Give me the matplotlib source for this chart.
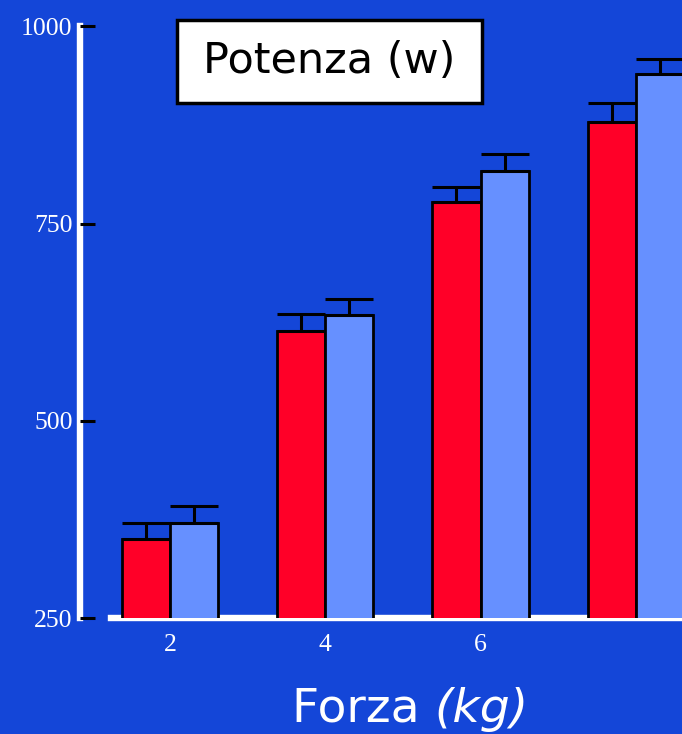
import matplotlib
matplotlib.use("Agg")
import matplotlib.pyplot as plt
from matplotlib.patches import Rectangle
import numpy as np

# Data: power (W) at each load (kg) for two conditions
forza = [2, 4, 6, 8]
tick_labels = ["2", "4", "6", ""]
potenza_rossa = [351, 614, 777, 879]
errore_rosso = [20, 21, 20, 24]
potenza_azzurra = [371, 634, 817, 939]
errore_azzurro = [21, 21, 21, 20]
y_ticks = [250, 500, 750, 1000]

BG = "#1446D8"
RED = "#FF0028"
LIGHT = "#6690FF"

fig = plt.figure(figsize=(6.82, 7.34), dpi=100, facecolor=BG)
ax = fig.add_axes([0.1166, 0.1576, 0.8834, 0.8066], facecolor=BG)

x = np.array(forza, dtype=float)
w = 0.62

ax.bar(x - w / 2, potenza_rossa, width=w, color=RED,
       edgecolor="black", linewidth=2, zorder=3)
ax.bar(x + w / 2, potenza_azzurra, width=w, color=LIGHT,
       edgecolor="black", linewidth=2, zorder=3)

# Upper-only error bars
cap = 17.3
ax.errorbar(x - w / 2, potenza_rossa, yerr=[np.zeros(len(x)), errore_rosso],
            fmt="none", ecolor="black", elinewidth=2.2, capsize=cap,
            capthick=2.2, zorder=4)
ax.errorbar(x + w / 2, potenza_azzurra, yerr=[np.zeros(len(x)), errore_azzurro],
            fmt="none", ecolor="black", elinewidth=2.2, capsize=cap,
            capthick=2.2, zorder=4)

ax.set_ylim(250, 1000)
ax.set_xlim(0.832, 8.597)

# Spines
for s in ["top", "right"]:
    ax.spines[s].set_visible(False)
ax.spines["left"].set_color("white")
ax.spines["left"].set_linewidth(4.6)
ax.spines["bottom"].set_color("white")
ax.spines["bottom"].set_linewidth(4.6)
ax.spines["bottom"].set_bounds(forza[0] - 0.76, ax.get_xlim()[1])
ax.spines["left"].set_zorder(2)
ax.spines["bottom"].set_zorder(2)

ax.set_yticks(y_ticks)
ax.set_yticklabels([str(v) for v in y_ticks], family="Liberation Serif",
                   fontsize=18.5, color="white")
ax.tick_params(axis="y", direction="in", length=11, width=2.2, color="black",
               pad=5)
ax.yaxis.set_zorder(2.6)

ax.set_xticks(forza)
ax.set_xticklabels(tick_labels, family="Liberation Serif", fontsize=18.5,
                   color="white")
ax.tick_params(axis="x", length=0, pad=11)

# Axis title
fig.text(0.637, 0.0165, "Forza ", ha="right", va="baseline", fontsize=34,
         color="white", family="DejaVu Sans")
fig.text(0.637, 0.0165, "(kg)", ha="left", va="baseline", fontsize=34,
         color="white", family="DejaVu Sans", style="italic")

# Title box
bx0, by0 = 177 / 682, 1 - 102.7 / 734
bw, bh = 305 / 682, 82.7 / 734
fig.patches.append(Rectangle((bx0, by0), bw, bh, transform=fig.transFigure,
                             facecolor="white", edgecolor="black",
                             linewidth=2.5, zorder=5))
fig.text(bx0 + bw / 2, by0 + bh / 2, "Potenza (w)", ha="center", va="center",
         fontsize=31, color="black", family="DejaVu Sans", zorder=6)

fig.savefig("out.png", dpi=100, facecolor=BG)
